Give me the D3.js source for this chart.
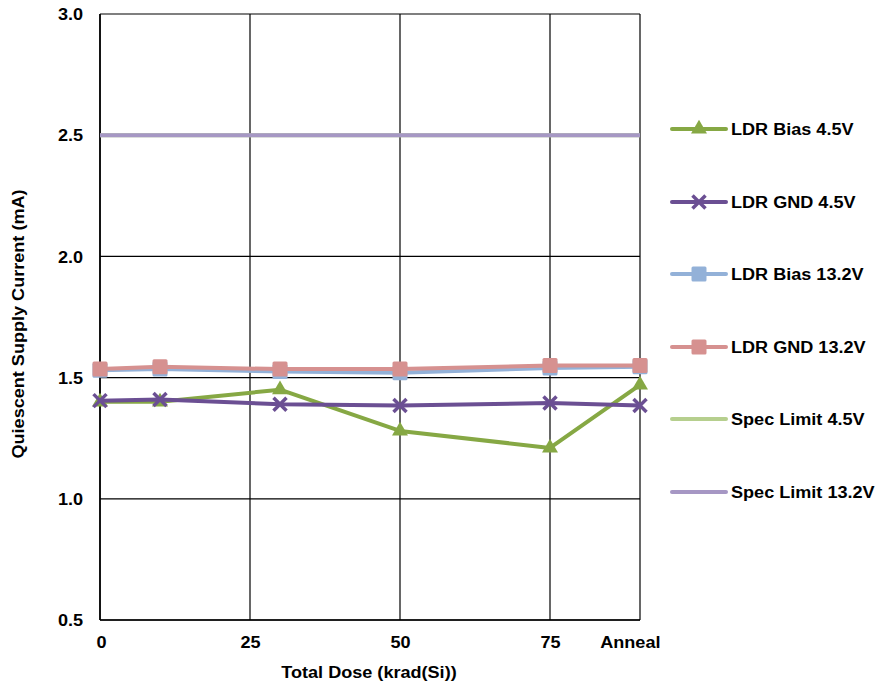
<!DOCTYPE html>
<html>
<head>
<meta charset="utf-8">
<script src="https://cdn.jsdelivr.net/npm/d3@7"></script>
<style>
  body { margin: 0; background: #fff; }
  svg text { font-family: Arial, "Liberation Sans", sans-serif; font-weight: bold; fill: #000; font-size: 16px; }
</style>
</head>
<body>
<svg id="chart" width="880" height="687"></svg>
<script>
// Dose steps (krad(Si)); the last step is the anneal measurement
const doses = [0, 10, 30, 50, 75, 90];
const xTickValues = [0, 25, 50, 75, 90];
const xTickLabels = ["0", "25", "50", "75", "Anneal"];
const yTickValues = [0.5, 1.0, 1.5, 2.0, 2.5, 3.0];

const ldrBias45 = [1.40, 1.40, 1.45, 1.28, 1.21, 1.47];
const ldrGnd45 = [1.405, 1.41, 1.39, 1.385, 1.395, 1.385];
const ldrBias132 = [1.53, 1.535, 1.525, 1.52, 1.54, 1.545];
const ldrGnd132 = [1.535, 1.545, 1.535, 1.535, 1.55, 1.55];
const specLimit45 = [2.5, 2.5];
const specLimit132 = [2.5, 2.5];
const specDoses = [0, 90];

const seriesList = [
  { name: "LDR Bias 4.5V", x: doses, y: ldrBias45, color: "#86A844", marker: "triangle" },
  { name: "LDR GND 4.5V", x: doses, y: ldrGnd45, color: "#6B4F93", marker: "cross" },
  { name: "LDR Bias 13.2V", x: doses, y: ldrBias132, color: "#93B1D8", marker: "square" },
  { name: "LDR GND 13.2V", x: doses, y: ldrGnd132, color: "#D69190", marker: "square" },
  { name: "Spec Limit 4.5V", x: specDoses, y: specLimit45, color: "#B6CF8E", marker: null },
  { name: "Spec Limit 13.2V", x: specDoses, y: specLimit132, color: "#A697C4", marker: null }
];

const svg = d3.select("#chart");
const plotLeft = 100, plotRight = 640, plotTop = 14, plotBottom = 620;
const stretch = 1.13; // text is set slightly wide

const x = d3.scaleLinear().domain([0, 90]).range([plotLeft, plotRight]);
const y = d3.scaleLinear().domain([0.5, 3.0]).range([plotBottom, plotTop]);

// Helper: wide text placed at (tx, ty)
function wideText(parent, tx, ty, str, anchor, rotate) {
  return parent.append("text")
    .attr("transform", `translate(${tx},${ty})${rotate ? ` rotate(${rotate})` : ""} scale(${stretch},1)`)
    .attr("text-anchor", anchor || "start")
    .text(str);
}

// Grid
const grid = svg.append("g");
grid.selectAll("line.h").data(yTickValues).join("line")
  .attr("x1", plotLeft).attr("x2", plotRight)
  .attr("y1", d => y(d)).attr("y2", d => y(d))
  .attr("stroke", "#000").attr("stroke-width", 1.2);
grid.selectAll("line.v").data([0, 25, 50, 75, 90]).join("line")
  .attr("y1", plotTop).attr("y2", plotBottom)
  .attr("x1", d => x(d)).attr("x2", d => x(d))
  .attr("stroke", "#000").attr("stroke-width", 1.2);
// Axis lines a little heavier
svg.append("line").attr("x1", plotLeft).attr("x2", plotLeft).attr("y1", plotTop).attr("y2", plotBottom)
  .attr("stroke", "#000").attr("stroke-width", 1.6);
svg.append("line").attr("x1", plotLeft).attr("x2", plotRight).attr("y1", plotBottom).attr("y2", plotBottom)
  .attr("stroke", "#000").attr("stroke-width", 1.6);

// Axes (labels only)
const yAxis = svg.append("g").attr("transform", `translate(${plotLeft},0)`)
  .call(d3.axisLeft(y).tickValues(yTickValues).tickFormat(d3.format(".1f")).tickSize(0).tickPadding(15));
yAxis.select(".domain").remove();
yAxis.selectAll("text").attr("dy", "0.35em").attr("transform", `scale(${stretch},1)`);

const xAxis = svg.append("g").attr("transform", `translate(0,${plotBottom})`)
  .call(d3.axisBottom(x).tickValues(xTickValues).tickFormat((d, i) => xTickLabels[i]).tickSize(0).tickPadding(0));
xAxis.select(".domain").remove();
xAxis.selectAll("text").attr("y", 28).attr("dy", 0)
  .attr("dx", (d, i) => i === xTickLabels.length - 1 ? -9 : (i === 0 ? 1 : 0))
  .attr("transform", `scale(${stretch},1)`);

// Axis titles
wideText(svg, 369, 678, "Total Dose (krad(Si))", "middle");
wideText(svg, 24, 324, "Quiescent Supply Current (mA)", "middle", -90)
  .attr("transform", `translate(24,324) rotate(-90) scale(${stretch},1)`);

// Marker drawing
function drawMarker(g, type, color, cx, cy) {
  if (type === "triangle") {
    g.append("path").attr("d", d3.symbol(d3.symbolTriangle, 110)())
      .attr("transform", `translate(${cx},${cy})`).attr("fill", color);
  } else if (type === "square") {
    g.append("rect").attr("x", cx - 7.5).attr("y", cy - 7.5).attr("width", 15).attr("height", 15)
      .attr("rx", 1.5).attr("fill", color);
  } else if (type === "cross") {
    const s = 6.5;
    g.append("path").attr("d", `M${cx - s},${cy - s}L${cx + s},${cy + s}M${cx - s},${cy + s}L${cx + s},${cy - s}`)
      .attr("stroke", color).attr("stroke-width", 3.5).attr("fill", "none");
  }
}

const line = d3.line().x(d => x(d[0])).y(d => y(d[1]));

// Spec limits at the back, then the measured series
const drawOrder = [4, 5, 2, 3, 0, 1];
drawOrder.forEach(i => {
  const s = seriesList[i];
  const pts = s.x.map((v, j) => [v, s.y[j]]);
  const g = svg.append("g");
  g.append("path").datum(pts).attr("d", line)
    .attr("fill", "none").attr("stroke", s.color).attr("stroke-width", 4)
    .attr("stroke-linejoin", "round");
  if (s.marker) pts.forEach(p => drawMarker(g, s.marker, s.color, x(p[0]), y(p[1])));
});

// Legend
const legendY = [129, 202, 274, 347, 419, 492];
seriesList.forEach((s, i) => {
  const g = svg.append("g");
  const ly = legendY[i];
  g.append("line").attr("x1", 672).attr("x2", 726).attr("y1", ly).attr("y2", ly)
    .attr("stroke", s.color).attr("stroke-width", 4).attr("stroke-linecap", "round");
  if (s.marker) drawMarker(g, s.marker, s.color, 699, ly);
  wideText(g, 731, ly + 5.7, s.name, "start");
});
</script>
</body>
</html>
